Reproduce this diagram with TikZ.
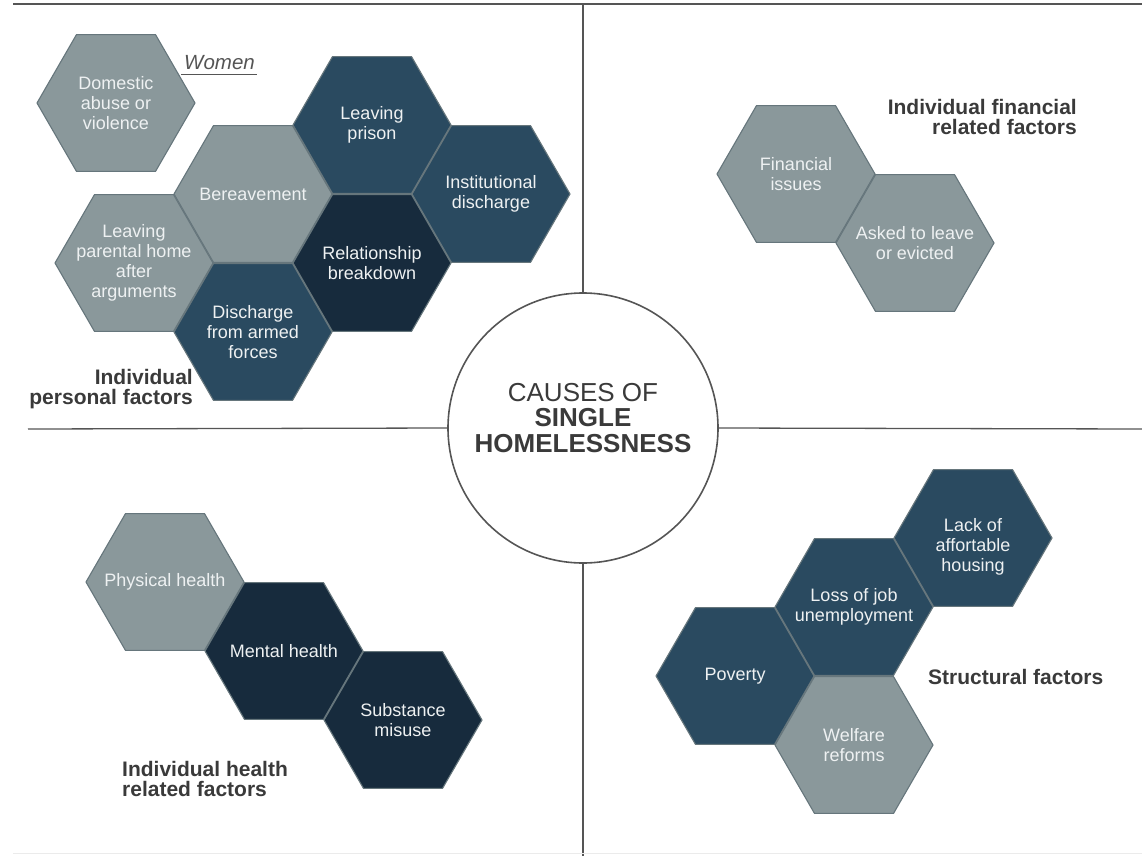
\documentclass[tikz,border=0pt]{standalone}
\usepackage{fontspec}
\setmainfont{Liberation Sans}
\usepackage{tikz}
\usetikzlibrary{positioning,shapes.geometric}

\definecolor{lightcell}{HTML}{8A989B}
\definecolor{midcell}{HTML}{2A4A60}
\definecolor{darkcell}{HTML}{172B3D}
\definecolor{cellline}{HTML}{66767C}
\definecolor{celltext}{HTML}{EEF1F2}
\definecolor{rulegray}{HTML}{555555}
\definecolor{labelgray}{HTML}{3A3A3A}

\begin{document}
\begin{tikzpicture}[
                x=1pt, y=-1pt,
                on grid,
                hexcell/.style={regular polygon, regular polygon sides=6,
                                minimum size=158pt, inner sep=0pt, draw=cellline, line width=1.1pt},
                hextext/.style={text=celltext, align=center, font=\fontsize{18pt}{20pt}\selectfont},
                hubtext/.style={text=labelgray, align=center, font=\fontsize{26pt}{25.5pt}\selectfont},
                catlabel/.style={text=labelgray, inner sep=0pt, font=\fontsize{21pt}{20pt}\selectfont\bfseries},
                framerule/.style={draw=rulegray, line width=1.3pt}
            ]
                \useasboundingbox (0,0) rectangle (1142,856);

                \node[hexcell, fill=lightcell, label={[hextext]center:{Domestic\\abuse or\\violence}}] (domestic) at (116,103) {};
                \node[hexcell, fill=lightcell, label={[hextext]center:Bereavement}] (bereave) at (253,194) {};
                \node[hexcell, fill=midcell, label={[hextext]center:{Leaving\\prison}}] (prison) [above right=69pt and 119pt of bereave] {};
                \node[hexcell, fill=midcell, label={[hextext]center:{Institutional\\discharge}}] (institution) [below right=69pt and 119pt of prison] {};
                \node[hexcell, fill=darkcell, label={[hextext]center:{Relationship\\breakdown}}] (relation) [below=138pt of prison] {};
                \node[hexcell, fill=lightcell, label={[hextext]center:{Leaving\\parental home\\after\\arguments}}] (parental) [below left=69pt and 119pt of bereave] {};
                \node[hexcell, fill=midcell, label={[hextext]center:{Discharge\\from armed\\forces}}] (armed) [below=138pt of bereave] {};

                \node[hexcell, fill=lightcell, label={[hextext]center:{Financial\\issues}}] (finance) at (796,174) {};
                \node[hexcell, fill=lightcell, label={[hextext]center:{Asked to leave\\or evicted}}] (evicted) [below right=69pt and 119pt of finance] {};

                \node[hexcell, fill=lightcell, label={[hextext]center:Physical health}] (physical) at (165,582) {};
                \node[hexcell, fill=darkcell, label={[hextext]center:Mental health}] (mental) [below right=69pt and 119pt of physical] {};
                \node[hexcell, fill=darkcell, label={[hextext]center:{Substance\\misuse}}] (substance) [below right=69pt and 119pt of mental] {};

                \node[hexcell, fill=midcell, label={[hextext, yshift=-9pt]center:{Lack of\\affortable\\housing}}] (housing) at (973,538) {};
                \node[hexcell, fill=midcell, label={[hextext]center:{Loss of job\\unemployment}}] (job) [below left=69pt and 119pt of housing] {};
                \node[hexcell, fill=midcell, label={[hextext]center:Poverty}] (poverty) [below left=69pt and 119pt of job] {};
                \node[hexcell, fill=lightcell, label={[hextext]center:{Welfare\\reforms}}] (welfare) [below=138pt of job] {};

                \node[circle, draw=rulegray, line width=1.6pt, fill=white, minimum size=270pt, inner sep=0pt,
                      label={[hubtext, yshift=10pt]center:{CAUSES OF\\\textbf{SINGLE}\\\textbf{HOMELESSNESS}}}] (hub) at (583,428) {};

                \draw[framerule] (13,4) -- (1142,4);
                \draw[framerule] (583,4) -- (hub.north);
                \draw[framerule] (hub.south) -- (583,856);
                \draw[framerule] (28,429) -- (hub.west);
                \draw[framerule] (hub.east) -- (1142,429);
                \draw[draw=black!8, line width=1pt] (13,853) -- (1142,853);

                \node[text=rulegray, anchor=base west, inner sep=0pt, font=\fontsize{20.5pt}{22pt}\selectfont\itshape] (women) at (184,70) {Women};
                \draw[draw=rulegray, line width=0.8pt] ([shift={(-3pt,-4pt)}]women.base west) -- ([shift={(2pt,-4pt)}]women.base east);

                \node[catlabel, align=right, anchor=east] (personal) at (193,389) {Individual\\personal factors};
                \node[catlabel, align=right, anchor=east] (financial) at (1077,117) {Individual financial\\related factors};
                \node[catlabel, align=left, anchor=west] (health) at (122,779) {Individual health\\related factors};
                \node[catlabel, anchor=west] (structural) at (928,677) {Structural factors};
            \end{tikzpicture}
\end{document}
